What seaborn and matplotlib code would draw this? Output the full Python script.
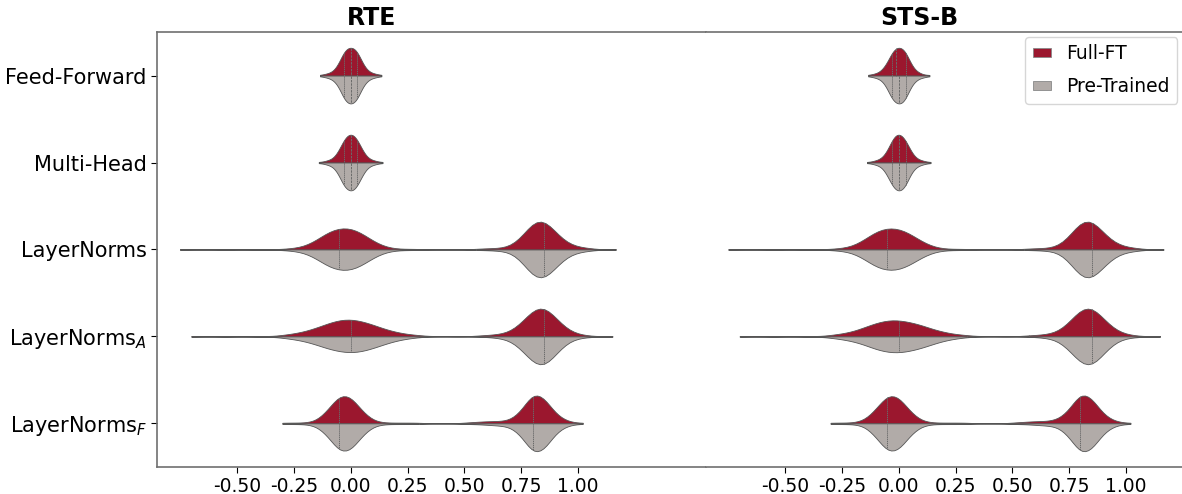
import numpy as np
import pandas as pd
import matplotlib
matplotlib.use("Agg")
import matplotlib.pyplot as plt
import seaborn as sns
from matplotlib.patches import Patch

tasks = ["RTE", "STS-B"]
modules = ["Feed-Forward", "Multi-Head", "LayerNorms", r"LayerNorms$_A$", r"LayerNorms$_F$"]
models = ["Full-FT", "Pre-Trained"]

# value bins per module and how many weights fall in each
ff_bins = [-0.135, -0.11, -0.09, -0.07, -0.05, -0.03, -0.01, 0.01, 0.03, 0.05, 0.07, 0.09, 0.11, 0.135]
mh_bins = [-0.14, -0.11, -0.09, -0.07, -0.05, -0.03, -0.01, 0.01, 0.03, 0.05, 0.07, 0.09, 0.11, 0.14]
ln_bins = [-0.75, -0.55, -0.40, -0.30, -0.25, -0.20, -0.15, -0.10, -0.05, 0.00, 0.05, 0.10, 0.15,
           0.20, 0.25, 0.30, 0.40, 0.50, 0.55, 0.60, 0.65, 0.70, 0.75, 0.80, 0.85, 0.90, 0.95,
           1.00, 1.05, 1.165]
lna_bins = [-0.70, -0.55, -0.40, -0.30, -0.25, -0.20, -0.15, -0.10, -0.05, 0.00, 0.05, 0.10, 0.15,
            0.20, 0.25, 0.30, 0.40, 0.50, 0.55, 0.60, 0.65, 0.70, 0.75, 0.80, 0.85, 0.90, 0.95,
            1.00, 1.05, 1.15]
lnf_bins = [-0.30, -0.25, -0.20, -0.15, -0.10, -0.05, 0.00, 0.05, 0.10, 0.15, 0.20, 0.25, 0.30,
            0.40, 0.50, 0.55, 0.60, 0.65, 0.70, 0.75, 0.80, 0.85, 0.90, 0.95, 1.02]

# RTE
rte_ff_full = [1, 2, 3, 6, 14, 26, 30, 30, 26, 14, 6, 3, 2, 1]
rte_ff_pre = [1, 2, 3, 6, 13, 26, 31, 31, 26, 13, 6, 3, 2, 1]
rte_mh_full = [1, 2, 3, 6, 14, 25, 31, 31, 25, 14, 6, 3, 2, 1]
rte_mh_pre = [1, 2, 3, 6, 14, 26, 30, 31, 25, 14, 6, 3, 2, 1]
rte_ln_full = [1, 1, 1, 1, 2, 5, 14, 27, 33, 33, 25, 12, 4, 1, 1, 1, 0,
               0, 1, 2, 2, 4, 17, 44, 48, 26, 9, 4, 2, 1]
rte_ln_pre = [1, 1, 1, 1, 2, 5, 14, 27, 33, 33, 25, 12, 4, 1, 1, 1, 0,
              0, 1, 1, 2, 3, 16, 45, 50, 28, 10, 4, 2, 1]
rte_lna_full = [1, 1, 1, 2, 4, 7, 12, 18, 23, 24, 21, 16, 10, 6, 3, 2, 1,
                0, 1, 2, 3, 6, 18, 38, 44, 26, 9, 3, 1, 1]
rte_lna_pre = [1, 1, 1, 2, 4, 7, 12, 18, 22, 24, 22, 17, 11, 6, 3, 1, 0,
               0, 0, 1, 2, 5, 18, 40, 48, 26, 8, 2, 1, 1]
rte_lnf_full = [1, 1, 1, 3, 18, 40, 38, 16, 3, 1, 1, 1, 1, 0,
                1, 2, 3, 3, 4, 16, 44, 36, 12, 3, 1]
rte_lnf_pre = [1, 1, 1, 3, 17, 41, 39, 16, 3, 1, 1, 1, 1, 0,
               1, 1, 2, 3, 4, 16, 44, 38, 12, 3, 1]

# STS-B
sts_ff_full = [1, 2, 3, 7, 14, 25, 30, 30, 26, 14, 6, 3, 1, 1]
sts_ff_pre = [1, 2, 3, 6, 14, 26, 30, 31, 26, 13, 6, 3, 2, 1]
sts_mh_full = [1, 2, 3, 6, 13, 25, 32, 31, 25, 14, 6, 3, 2, 1]
sts_mh_pre = [1, 2, 3, 6, 14, 25, 31, 31, 26, 13, 6, 3, 2, 1]
sts_ln_full = [1, 1, 1, 1, 2, 5, 15, 28, 33, 32, 24, 12, 4, 1, 1, 1, 0,
               0, 1, 2, 2, 4, 18, 45, 47, 25, 9, 4, 2, 1]
sts_ln_pre = [1, 1, 1, 1, 2, 5, 15, 28, 33, 32, 24, 12, 4, 1, 1, 1, 0,
              0, 1, 1, 2, 3, 17, 46, 49, 27, 10, 4, 2, 1]
sts_lna_full = [1, 1, 1, 2, 4, 7, 13, 19, 23, 23, 20, 16, 10, 6, 3, 2, 1,
                0, 1, 2, 3, 6, 19, 40, 44, 25, 9, 3, 1, 1]
sts_lna_pre = [1, 1, 1, 2, 4, 7, 12, 19, 23, 24, 21, 17, 11, 6, 3, 1, 0,
               0, 0, 1, 2, 5, 19, 41, 47, 25, 8, 2, 1, 1]
sts_lnf_full = [1, 1, 1, 4, 19, 40, 37, 15, 3, 1, 1, 1, 1, 0,
                1, 2, 3, 3, 5, 17, 44, 35, 11, 3, 1]
sts_lnf_pre = [1, 1, 1, 3, 18, 41, 38, 15, 3, 1, 1, 1, 1, 0,
               1, 1, 2, 3, 4, 17, 44, 37, 12, 3, 1]

xticks = [-0.50, -0.25, 0.00, 0.25, 0.50, 0.75, 1.00]
xtick_labels = ["-0.50", "-0.25", "0.00", "0.25", "0.50", "0.75", "1.00"]

bins = [ff_bins, mh_bins, ln_bins, lna_bins, lnf_bins]
counts = {
    "RTE": [(rte_ff_full, rte_ff_pre), (rte_mh_full, rte_mh_pre), (rte_ln_full, rte_ln_pre),
            (rte_lna_full, rte_lna_pre), (rte_lnf_full, rte_lnf_pre)],
    "STS-B": [(sts_ff_full, sts_ff_pre), (sts_mh_full, sts_mh_pre), (sts_ln_full, sts_ln_pre),
              (sts_lna_full, sts_lna_pre), (sts_lnf_full, sts_lnf_pre)],
}

frames = []
for task in tasks:
    for mod, b, pair in zip(modules, bins, counts[task]):
        for model, c in zip(models, pair):
            vals = np.repeat(b, c)
            frames.append(pd.DataFrame({"task": task, "module": mod, "model": model, "value": vals}))
df = pd.concat(frames, ignore_index=True)

colors = {"Full-FT": "#9B172E", "Pre-Trained": "#B1ABA8"}
bw_adjust = [1.0, 1.0, 0.28, 0.28, 0.25]

fig = plt.figure(figsize=(11.82, 4.94), dpi=100)
ax_l = fig.add_axes([0.133, 0.055, 0.464, 0.880])
ax_r = fig.add_axes([0.597, 0.055, 0.403, 0.880])
xlims = {"RTE": (-0.85, 1.56), "STS-B": (-0.85, 1.247)}

for ax, task in zip([ax_l, ax_r], tasks):
    for mod, bw in zip(modules, bw_adjust):
        sub = df[(df["task"] == task) & (df["module"] == mod)]
        sns.violinplot(
            data=sub, x="value", y="module", hue="model",
            order=modules, hue_order=models, palette=colors, saturation=1,
            split=True, inner="quart", density_norm="width", cut=0,
            bw_adjust=bw, width=0.64, linewidth=0.6, linecolor="#555555",
            inner_kws={"color": "#6a6a6a", "linewidth": 0.7},
            legend=False, ax=ax,
        )
    ax.set_xlim(*xlims[task])
    ax.set_ylim(4.5, -0.5)
    ax.set_xlabel("")
    ax.set_ylabel("")
    ax.set_xticks(xticks)
    ax.set_xticklabels(xtick_labels, fontsize=13.5)
    lo, hi = xlims[task]
    ax.set_title(task, fontsize=17, fontweight="bold", x=(0.09 - lo) / (hi - lo), pad=5)
    for s in ax.spines.values():
        s.set_color("#707070")
        s.set_linewidth(1.2)
    ax.tick_params(colors="black", length=4)

ax_l.spines["right"].set_visible(False)
ax_r.spines["left"].set_visible(False)
ax_r.spines["right"].set_visible(False)
ax_l.set_yticks(range(len(modules)))
ax_l.set_yticklabels(modules, fontsize=15)
ax_r.set_yticks([])

handles = [Patch(facecolor=colors[m], edgecolor="#888888", linewidth=0.6, label=m) for m in models]
ax_r.legend(handles=handles, loc="upper right", fontsize=13.5, handlelength=1.0, handleheight=0.4,
            labelspacing=0.75, borderaxespad=0.25, frameon=True)

fig.savefig("out.png", dpi=100)
